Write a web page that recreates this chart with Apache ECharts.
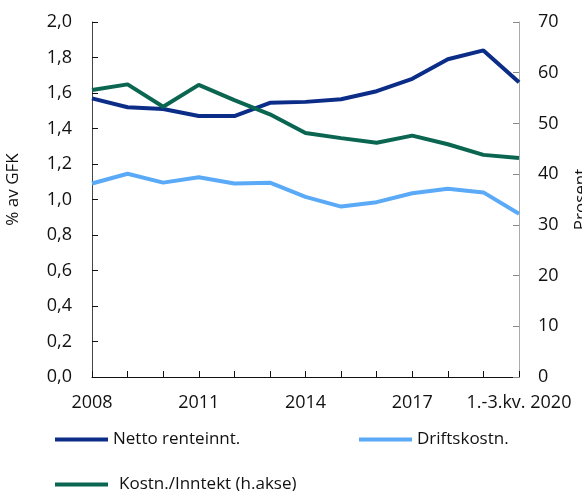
<!DOCTYPE html>
<html>
<head>
<meta charset="utf-8">
<script src="https://cdn.jsdelivr.net/npm/echarts@6/dist/echarts.min.js"></script>
<style>
  html, body { margin: 0; padding: 0; background: #fff; }
  #chart { width: 582px; height: 491px; }
</style>
</head>
<body>
<div id="chart"></div>
<script>
// categories and values
const years = ['2008', '2009', '2010', '2011', '2012', '2013', '2014', '2015', '2016', '2017', '2018', '2019', '1.-3.kv. 2020'];
const nettoRente = [1.57, 1.52, 1.51, 1.47, 1.47, 1.545, 1.55, 1.565, 1.61, 1.68, 1.79, 1.84, 1.66];
const driftskostn = [1.09, 1.145, 1.095, 1.125, 1.09, 1.095, 1.015, 0.96, 0.985, 1.035, 1.06, 1.04, 0.92];
const kostnInntekt = [56.6, 57.7, 53.3, 57.6, 54.6, 51.8, 48.1, 47.1, 46.2, 47.6, 45.9, 43.8, 43.2];

const fnt = '"Open Sans", "Noto Sans", sans-serif';
const navy = '#0b2d87';
const light = '#5aaaf8';
const green = '#0a6650';

var myChart = echarts.init(document.getElementById('chart'));

const lineSeries = (name, data, color, yIdx) => ({
  name: name,
  type: 'line',
  yAxisIndex: yIdx,
  data: data,
  showSymbol: false,
  lineStyle: { width: 4, color: color },
  itemStyle: { color: color }
});

const legendBase = {
  itemWidth: 53,
  itemHeight: 4,
  icon: 'rect',
  itemGap: 0,
  textStyle: { fontFamily: fnt, fontSize: 17, color: '#111', padding: [0, 0, 0, 0] }
};

var option = {
  animation: false,
  grid: { left: 92, right: 63, top: 22, bottom: 114, outerBoundsMode: 'none' },
  legend: [
    Object.assign({}, legendBase, { left: 50, top: 426, data: ['Netto renteinnt.'] }),
    Object.assign({}, legendBase, { left: 354, top: 426, data: ['Driftskostn.'] }),
    Object.assign({}, legendBase, { left: 50, top: 471, data: ['Kostn./Inntekt (h.akse)'],
      textStyle: Object.assign({}, legendBase.textStyle, { padding: [0, 0, 0, 6] }) })
  ],
  xAxis: {
    type: 'category',
    data: years,
    boundaryGap: false,
    axisLine: { lineStyle: { color: '#111', width: 1 } },
    axisTick: { inside: true, interval: 0, length: 6, lineStyle: { color: '#111' } },
    axisLabel: { interval: 2, margin: 17, fontFamily: fnt, fontSize: 18, color: '#111' }
  },
  yAxis: [
    {
      type: 'value',
      min: 0, max: 2, interval: 0.2,
      name: '% av GFK',
      nameLocation: 'middle',
      nameGap: 70,
      nameTextStyle: { fontFamily: fnt, fontSize: 17, color: '#111', padding: [0, 0, 0, 20] },
      axisLine: { show: true, lineStyle: { color: '#444' } },
      axisTick: { show: true, inside: true, length: 6, lineStyle: { color: '#111' } },
      splitLine: { show: false },
      axisLabel: {
        margin: 20, fontFamily: fnt, fontSize: 18, color: '#111',
        formatter: v => v.toFixed(1).replace('.', ',')
      }
    },
    {
      type: 'value',
      min: 0, max: 70, interval: 10,
      position: 'right',
      name: 'Prosent',
      nameLocation: 'middle',
      nameGap: 54,
      nameTextStyle: { fontFamily: fnt, fontSize: 17, color: '#111' },
      axisLine: { show: true, lineStyle: { color: '#aaa' } },
      axisTick: { show: true, inside: true, length: 6, lineStyle: { color: '#888' } },
      splitLine: { show: false },
      axisLabel: { margin: 19, fontFamily: fnt, fontSize: 18, color: '#111' }
    }
  ],
  series: [
    lineSeries('Netto renteinnt.', nettoRente, navy, 0),
    lineSeries('Driftskostn.', driftskostn, light, 0),
    lineSeries('Kostn./Inntekt (h.akse)', kostnInntekt, green, 1)
  ]
};

myChart.setOption(option);
</script>
</body>
</html>
